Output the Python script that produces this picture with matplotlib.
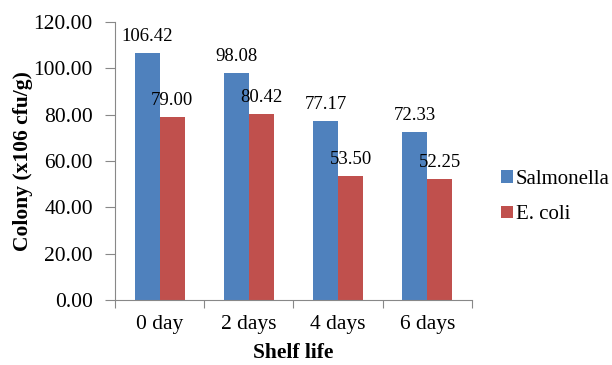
import numpy as np
import matplotlib
matplotlib.use("Agg")
import matplotlib.pyplot as plt

categories = ["0 day", "2 days", "4 days", "6 days"]
salmonella = [106.42, 98.08, 77.17, 72.33]
ecoli = [79.00, 80.42, 53.50, 52.25]

plt.rcParams['font.family'] = ['Liberation Serif', 'DejaVu Serif']

fig = plt.figure(figsize=(6.12, 3.65), dpi=100)
ax = fig.add_axes([0.188, 0.178, 0.583, 0.762])

x = np.arange(len(categories))
w = 0.28
b1 = ax.bar(x - w/2, salmonella, w, color="#4F81BD", label="Salmonella")
b2 = ax.bar(x + w/2, ecoli, w, color="#C0504D", label="E. coli")

for bars in (b1, b2):
    for r in bars:
        ax.text(r.get_x() + r.get_width()/2, r.get_height() + 3.5,
                "%.2f" % r.get_height(), ha="center", va="bottom", fontsize=13.5)

ax.set_xlim(-0.5, len(categories) - 0.5)
ax.set_ylim(0, 120)
ax.set_yticks(np.arange(0, 121, 20))
ax.set_yticklabels(["%.2f" % v for v in np.arange(0, 121, 20)], fontsize=15.5)

ax.set_xticks(np.arange(-0.5, len(categories), 1.0))
ax.set_xticklabels([])
ax.set_xticks(x, minor=True)
ax.set_xticklabels(categories, minor=True, fontsize=15.5)
ax.tick_params(axis="x", which="minor", length=0, pad=11)
ax.tick_params(axis="x", which="major", length=6, color="#888888", direction="out")
ax.tick_params(axis="y", length=7, color="#888888", direction="out", pad=9)

for s in ("top", "right"):
    ax.spines[s].set_visible(False)
for s in ("left", "bottom"):
    ax.spines[s].set_color("#888888")

ax.set_ylabel("Colony (x106 cfu/g)", fontsize=15.5, fontweight="bold", labelpad=0)
ax.set_xlabel("Shelf life", fontsize=15.5, fontweight="bold", labelpad=6)

ax.legend(loc="center left", bbox_to_anchor=(1.059, 0.37),
          bbox_transform=ax.transAxes, frameon=False, borderaxespad=0,
          fontsize=15, handlelength=0.55, handleheight=0.55, handletextpad=0.15,
          labelspacing=0.8)

fig.savefig("out.png", dpi=100)
